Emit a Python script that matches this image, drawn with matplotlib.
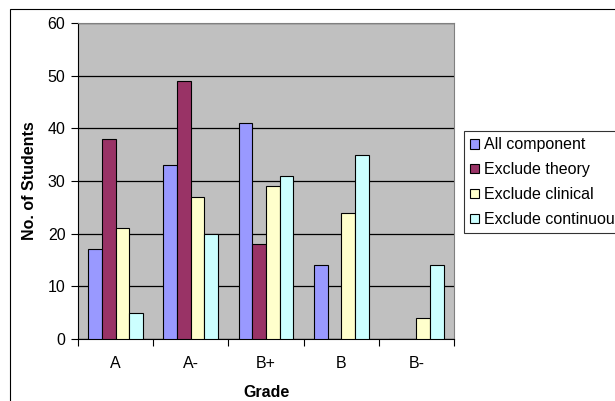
import matplotlib.pyplot as plt
import numpy as np
from matplotlib.patches import Rectangle

plt.rcParams['font.family'] = ['Liberation Sans', 'DejaVu Sans']

# data
grades = ['A', 'A-', 'B+', 'B', 'B-']
all_component = [17, 33, 41, 14, 0]
exclude_theory = [38, 49, 18, 0, 0]
exclude_clinical = [21, 27, 29, 24, 4]
exclude_continuous = [5, 20, 31, 35, 14]

series = [('All component', all_component, '#9999FF'),
          ('Exclude theory', exclude_theory, '#993366'),
          ('Exclude clinical', exclude_clinical, '#FFFFCC'),
          ('Exclude continuous', exclude_continuous, '#CCFFFF')]

fig = plt.figure(figsize=(6.15, 4.01), dpi=100)
ax = fig.add_axes([78/615, 62/401, 376/615, 316/401])
ax.set_facecolor('#C0C0C0')

x = np.arange(len(grades))
w = 1/5.5
for i, (name, vals, col) in enumerate(series):
    ax.bar(x + (i - 1.5)*w, vals, w, color=col, edgecolor='black', linewidth=0.8,
           label=name, zorder=3)

ax.set_xlim(-0.5, len(grades) - 0.5)
ax.set_ylim(0, 60)
ax.set_yticks(range(0, 61, 10))
ax.yaxis.grid(True, color='black', linewidth=0.9, zorder=1)
ax.set_axisbelow(True)

ax.set_xticks(x)
ax.set_xticklabels(grades)
ax.set_xticks(np.arange(-0.5, len(grades)), minor=True)
ax.tick_params(axis='x', which='major', length=0, pad=12, labelsize=11.5)
ax.tick_params(axis='x', which='minor', length=5, width=0.8, direction='out')
ax.tick_params(axis='y', length=5, width=0.8, direction='out', labelsize=11.5, pad=4)

for s in ['top', 'right']:
    ax.spines[s].set_color('#808080')
    ax.spines[s].set_linewidth(0.8)
for s in ['left', 'bottom']:
    ax.spines[s].set_color('black')
    ax.spines[s].set_linewidth(0.8)

ax.set_ylabel('No. of Students', fontsize=11.5, fontweight='bold', labelpad=8)
ax.set_xlabel('Grade', fontsize=11.5, fontweight='bold', labelpad=10)

# legend runs past the right edge, as in the original
leg = fig.legend(loc='upper left', bbox_to_anchor=(464/615, 1 - 131/401),
                 fontsize=11.5, frameon=True, fancybox=False, edgecolor='black',
                 handlelength=0.55, handleheight=0.55, handletextpad=0.3,
                 labelspacing=0.62, borderpad=0.4, borderaxespad=0)
leg.get_frame().set_linewidth(0.8)

# outer chart border (cut off at the right and bottom)
fig.patches.append(Rectangle((10/615, -0.1), 1.2, 1 - 9/401 + 0.1,
                             transform=fig.transFigure, fill=False,
                             edgecolor='black', linewidth=0.8))

fig.savefig('out.png', dpi=100)
